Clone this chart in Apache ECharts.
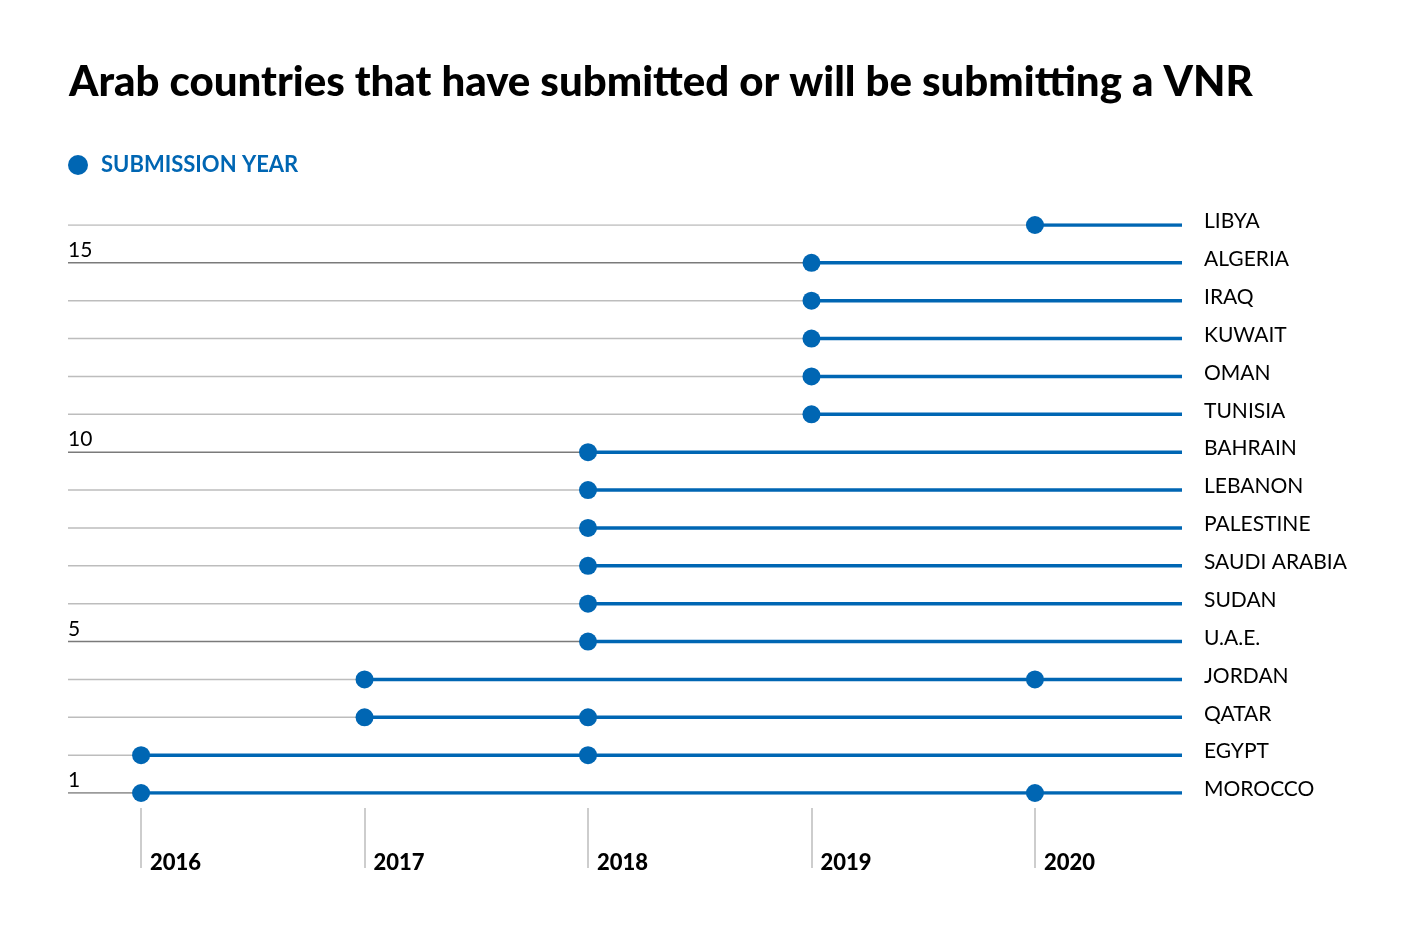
<!DOCTYPE html>
<html>
<head>
<meta charset="utf-8">
<script src="https://cdn.jsdelivr.net/npm/echarts@6/dist/echarts.min.js"></script>
<style>html,body{margin:0;padding:0;background:#fff}#c{width:1401px;height:941px}</style>
</head>
<body>
<div id="c"></div>
<script>
// Rows from bottom (1) to top (16)
const countries = ["MOROCCO","EGYPT","QATAR","JORDAN","U.A.E.","SUDAN","SAUDI ARABIA","PALESTINE","LEBANON","BAHRAIN","TUNISIA","OMAN","KUWAIT","IRAQ","ALGERIA","LIBYA"];
const submissionYears = [[2016,2020],[2016,2018],[2017,2018],[2017,2020],[2018],[2018],[2018],[2018],[2018],[2018],[2019],[2019],[2019],[2019],[2019],[2020]];
const yearTicks = [2016,2017,2018,2019,2020];
const rowNumberLabels = [1,5,10,15];
const xStart = 2015.673, xEnd = 2020.658;

const BLUE = '#0066b3';
const series = [];
countries.forEach((c, i) => {
  const r = i + 1;
  const dark = rowNumberLabels.includes(r);
  series.push({
    type: 'line', silent: true, symbol: 'none', z: 1,
    lineStyle: { color: dark ? '#7a7a7a' : '#bdbdbd', width: 1.5 },
    data: [[xStart, r], [xEnd, r]]
  });
  series.push({
    type: 'line', silent: true, symbol: 'none', z: 2,
    lineStyle: { color: BLUE, width: 3.5 },
    data: [[Math.min(...submissionYears[i]), r], [xEnd, r]]
  });
});
const pts = [];
submissionYears.forEach((ys, i) => ys.forEach(y => pts.push([y, i + 1])));
series.push({
  name: 'SUBMISSION YEAR', type: 'scatter', symbol: 'circle', symbolSize: 18, z: 5,
  itemStyle: { color: BLUE, opacity: 1 }, data: pts
});

const chart = echarts.init(document.getElementById('c'));
chart.setOption({
  animation: false,
  title: {
    text: 'Arab countries that have submitted or will be submitting a VNR',
    left: 64, top: 56,
    textStyle: { fontFamily: 'Lato', fontWeight: 900, fontSize: 42, color: '#000' }
  },
  legend: {
    left: 68, top: 154, padding: 0, itemWidth: 20, itemHeight: 20, itemGap: 10,
    data: [{ name: 'SUBMISSION YEAR', icon: 'circle' }],
    textStyle: { fontFamily: 'Lato', fontWeight: 'bold', fontSize: 22, color: BLUE, padding: [0, 0, 0, 8] }
  },
  grid: { left: 68, right: 219, top: 225, bottom: 148, containLabel: false },
  xAxis: {
    type: 'value', min: xStart, max: xEnd, offset: 15,
    axisLine: { show: false },
    splitLine: { show: false },
    axisTick: { show: true, length: 60, inside: false, customValues: yearTicks, lineStyle: { color: '#bdbdbd', width: 1.5 } },
    axisLabel: {
      customValues: yearTicks, margin: 44, align: 'left', padding: [0, 0, 0, 9],
      fontFamily: 'Lato', fontWeight: 900, fontSize: 22, color: '#000',
      formatter: v => String(Math.round(v))
    }
  },
  yAxis: [{
    type: 'value', min: 1, max: 16, position: 'left',
    axisLine: { show: false }, axisTick: { show: false }, splitLine: { show: false },
    axisLabel: {
      inside: true, margin: 0, customValues: rowNumberLabels, verticalAlign: 'bottom', align: 'left',
      padding: [0, 0, 2, 0],
      fontFamily: 'Lato', fontSize: 21, color: '#000'
    }
  }, {
    type: 'value', min: 1, max: 16, position: 'right',
    axisLine: { show: false }, axisTick: { show: false }, splitLine: { show: false },
    axisLabel: {
      margin: 22, customValues: countries.map((c, i) => i + 1), align: 'left',
      fontFamily: 'Lato', fontSize: 21, color: '#000',
      formatter: v => '{n|' + countries[Math.round(v) - 1] + '}',
      rich: { n: { fontFamily: 'Lato', fontSize: 21, color: '#000', padding: [0, 0, 7, 0] } }
    }
  }],
  series: series
});
</script>
</body>
</html>
